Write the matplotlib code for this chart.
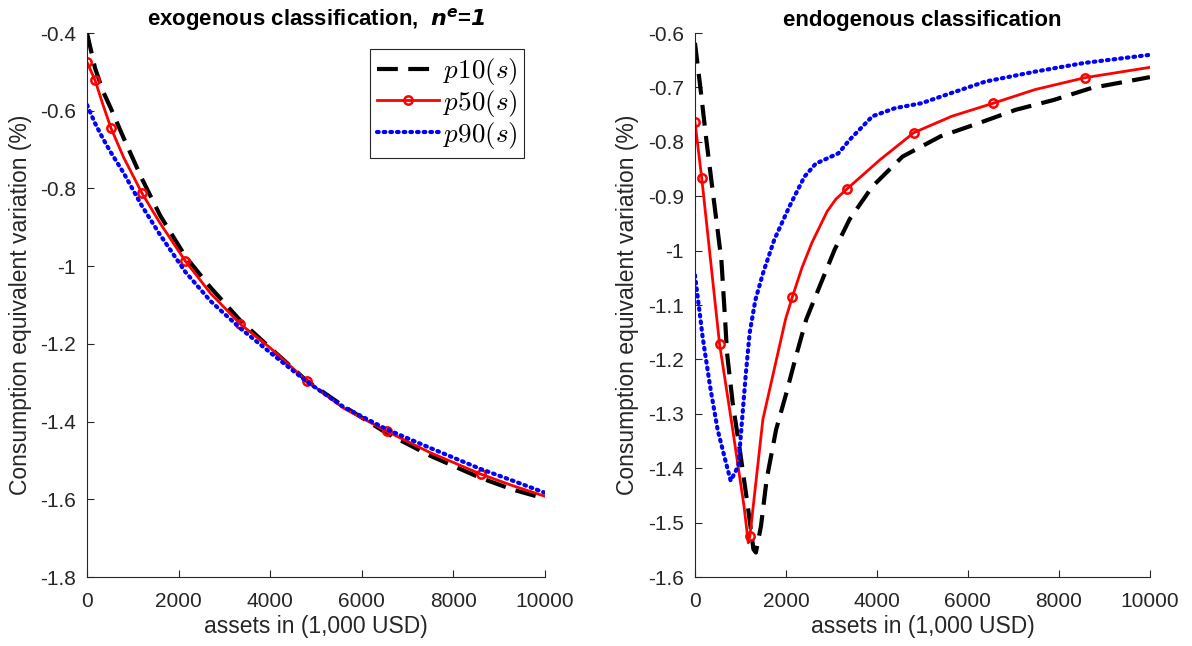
import numpy as np
import matplotlib
matplotlib.use("Agg")
import matplotlib.pyplot as plt

plt.rcParams['font.family'] = ['Liberation Sans', 'DejaVu Sans']

# ---- left panel: exogenous classification ----
exo_assets = [0, 175, 350, 525, 800, 1200, 1600, 2150, 2700, 3350, 4000,
              4800, 5600, 6550, 7500, 8600, 9300, 10000]
exo_p10 = [-0.40, -0.49, -0.55, -0.595, -0.67, -0.775, -0.87, -0.975, -1.055,
           -1.14, -1.21, -1.295, -1.36, -1.43, -1.488, -1.545, -1.575, -1.598]
exo_p50 = [-0.475, -0.521, -0.585, -0.645, -0.72, -0.812, -0.89, -0.987, -1.07,
           -1.149, -1.21, -1.295, -1.365, -1.425, -1.48, -1.535, -1.565, -1.592]
exo_p90 = [-0.585, -0.632, -0.672, -0.708, -0.76, -0.845, -0.92, -1.015, -1.09,
           -1.16, -1.222, -1.297, -1.362, -1.42, -1.468, -1.522, -1.552, -1.583]
exo_marks = [0, 175, 525, 1200, 2150, 3350, 4800, 6550, 8600]

# ---- right panel: endogenous classification ----
endo_p10_x = [0, 125, 250, 415, 581, 664, 705, 830, 996, 1162, 1286, 1340, 1452,
              1577, 1784, 1992, 2241, 2448, 2739, 3071, 3402, 3900, 4564, 5394,
              6224, 7054, 7884, 8714, 10000]
endo_p10 = [-0.618, -0.704, -0.796, -0.907, -1.017, -1.128, -1.188, -1.28, -1.372,
            -1.47, -1.549, -1.555, -1.506, -1.42, -1.329, -1.267, -1.188, -1.126,
            -1.066, -0.998, -0.942, -0.882, -0.827, -0.79, -0.766, -0.741, -0.723,
            -0.701, -0.681]

endo_p50_x = [0, 150, 540, 830, 1079, 1172, 1209, 1494, 1743, 1992, 2141, 2350,
              2573, 2905, 3100, 3336, 4066, 4813, 5643, 6556, 7469, 8573, 10000]
endo_p50 = [-0.763, -0.867, -1.171, -1.329, -1.47, -1.537, -1.524, -1.31, -1.218,
            -1.126, -1.085, -1.032, -0.985, -0.928, -0.905, -0.887, -0.833, -0.783,
            -0.753, -0.729, -0.704, -0.682, -0.663]
endo_marks = [0, 150, 540, 1209, 2141, 3336, 4813, 6556, 8573]

endo_p90_x = [0, 125, 166, 332, 498, 664, 785, 954, 1037, 1120, 1203, 1328, 1494,
              1743, 2075, 2407, 2656, 3154, 3402, 3900, 4398, 4979, 5643, 6390,
              7469, 8548, 10000]
endo_p90 = [-1.045, -1.128, -1.157, -1.249, -1.329, -1.384, -1.423, -1.396, -1.31,
            -1.225, -1.151, -1.091, -1.042, -0.98, -0.919, -0.864, -0.84, -0.821,
            -0.796, -0.753, -0.738, -0.729, -0.71, -0.689, -0.671, -0.655, -0.64]

labels = [r'$p10(s)$', r'$p50(s)$', r'$p90(s)$']

fig = plt.figure(figsize=(11.92, 6.46), dpi=100)
ax1 = fig.add_axes([0.073, 0.1068, 0.384, 0.842])
ax2 = fig.add_axes([0.583, 0.1068, 0.3817, 0.842])

gray = '#262626'


def style_axes(ax):
    ax.spines['top'].set_visible(False)
    ax.spines['right'].set_visible(False)
    for s in ['left', 'bottom']:
        ax.spines[s].set_color(gray)
        ax.spines[s].set_linewidth(0.8)
    ax.tick_params(direction='in', length=5, width=0.8, colors=gray,
                   labelsize=15)
    ax.tick_params(axis='x', pad=11)
    ax.tick_params(axis='y', pad=8)
    ax.set_xlim(0, 10000)
    ax.set_xticks([0, 2000, 4000, 6000, 8000, 10000])
    ax.set_xlabel('assets in (1,000 USD)', fontsize=16.5, color=gray, labelpad=3)
    ax.set_ylabel('Consumption equivalent variation (%)', fontsize=16.5,
                  color=gray, labelpad=6)


def draw(ax, x10, y10, x50, y50, marks, x90, y90):
    midx = [list(x50).index(m) for m in marks]
    l1, = ax.plot(x10, y10, color='k', lw=3, dashes=(5, 2.5))
    l2, = ax.plot(x50, y50, color='r', lw=2, marker='o', markevery=midx,
                  markersize=6, markerfacecolor='none', markeredgewidth=1.8)
    l3, = ax.plot(x90, y90, color='b', lw=3, dashes=(0.4, 1.2),
                  dash_capstyle='round')
    return [l1, l2, l3]


lines = draw(ax1, exo_assets, exo_p10, exo_assets, exo_p50, exo_marks,
             exo_assets, exo_p90)
style_axes(ax1)
ax1.set_ylim(-1.8, -0.4)
ax1.set_yticks([-1.8, -1.6, -1.4, -1.2, -1, -0.8, -0.6, -0.4])
ax1.set_yticklabels(['-1.8', '-1.6', '-1.4', '-1.2', '-1', '-0.8', '-0.6', '-0.4'])
ax1.set_title(r'exogenous classification,  $\mathbfit{n^e}$=$\mathbfit{1}$',
              fontsize=16, fontweight='bold', pad=5)
ax1.title.set_math_fontfamily('dejavusans')

leg = ax1.legend(lines, labels, loc='upper right', bbox_to_anchor=(0.955, 0.97),
                 borderaxespad=0, fontsize=19.5, handlelength=2.3,
                 handletextpad=0.12, labelspacing=0.03, borderpad=0.25,
                 fancybox=False, framealpha=1)
leg.get_frame().set_edgecolor(gray)
leg.get_frame().set_linewidth(0.8)
for t in leg.get_texts():
    t.set_math_fontfamily('cm')

draw(ax2, endo_p10_x, endo_p10, endo_p50_x, endo_p50, endo_marks,
     endo_p90_x, endo_p90)
style_axes(ax2)
ax2.set_ylim(-1.6, -0.6)
ax2.set_yticks(np.round(np.arange(-1.6, -0.55, 0.1), 1))
ax2.set_yticklabels(['-1.6', '-1.5', '-1.4', '-1.3', '-1.2', '-1.1', '-1',
                     '-0.9', '-0.8', '-0.7', '-0.6'])
ax2.set_title('endogenous classification', fontsize=16, fontweight='bold', pad=5)

fig.savefig('out.png', dpi=100)
